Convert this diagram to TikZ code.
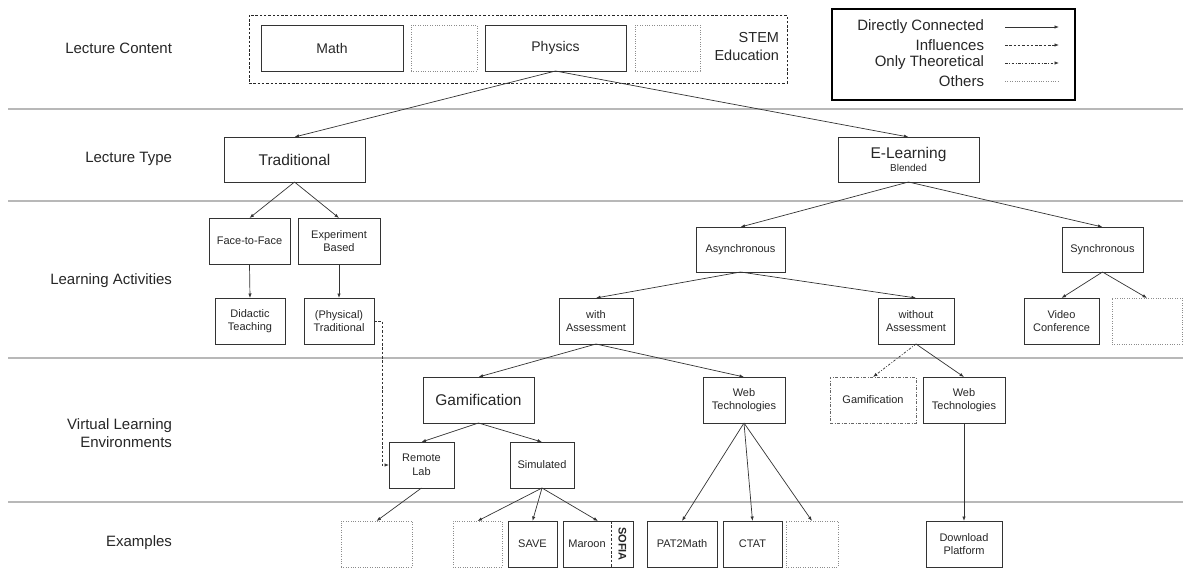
\documentclass[tikz,border=0pt]{standalone}
\usepackage{fontspec}
\setmainfont{Liberation Sans}
\usetikzlibrary{arrows.meta}
\begin{document}
\begin{tikzpicture}[x=1pt,y=-1pt,
  base/.style={inner sep=0pt, outer sep=0pt, align=center, text=black!85},
  box/.style={base, draw=black!80, line width=0.8pt, minimum height=46pt,
    font=\fontsize{11}{13.5}\selectfont},
  bigbox/.style={box, font=\fontsize{15.5}{18}\selectfont},
  topbox/.style={box, font=\fontsize{14}{17}\selectfont},
  ghost/.style={base, draw=black!45, line width=0.8pt, minimum height=46pt,
    dash pattern=on 0.8pt off 1.6pt},
  theory/.style={box, draw=black!60, dash pattern=on 3pt off 1.6pt on 0.8pt off 1.6pt},
  rowlabel/.style={base, anchor=east, align=right, font=\fontsize{15}{18}\selectfont},
  legtext/.style={base, anchor=east, font=\fontsize{15}{18}\selectfont},
  sep/.style={draw=black!28, line width=1.3pt},
  tip/.style={-{Latex[length=4.5pt,width=3.4pt]}},
  conn/.style={draw=black!80, line width=0.7pt, tip},
  influence/.style={conn, dash pattern=on 2.5pt off 1.8pt},
  theoretical/.style={conn, dash pattern=on 2.5pt off 1.6pt on 0.8pt off 1.6pt},
  others/.style={draw=black!45, line width=0.8pt, dash pattern=on 0.8pt off 1.6pt},
]
\useasboundingbox (0,0) rectangle (1183,568);

% row separators
\coordinate (s1a) at (8,109);  \coordinate (s1b) at (1183,109);
\coordinate (s2a) at (8,201);  \coordinate (s2b) at (1183,201);
\coordinate (s3a) at (8,358);  \coordinate (s3b) at (1183,358);
\coordinate (s4a) at (8,502);  \coordinate (s4b) at (1183,502);
\draw[sep] (s1a) -- (s1b);
\draw[sep] (s2a) -- (s2b);
\draw[sep] (s3a) -- (s3b);
\draw[sep] (s4a) -- (s4b);

% row labels
\node[rowlabel] (lContent) at (172,48) {Lecture Content};
\node[rowlabel] (lType) at (172,159) {Lecture Type};
\node[rowlabel] (lAct) at (172,281) {Learning Activities};
\node[rowlabel] (lVle) at (172,433) {Virtual Learning\\Environments};
\node[rowlabel] (lEx) at (172,543) {Examples};

% lecture content
\node[base, draw=black!85, line width=0.8pt, dash pattern=on 2.5pt off 1.8pt,
  minimum width=538pt, minimum height=68pt] (stem) at (518,49) {};
\node[topbox, minimum width=142pt] (math) at (332,48) {Math};
\node[ghost, minimum width=66pt] (g1) at (444,48) {};
\node[topbox, minimum width=141pt] (phys) at (555.5,48) {Physics};
\node[ghost, minimum width=65pt] (g2) at (667.5,48) {};
\node[base, anchor=east, align=right, font=\fontsize{14.5}{18}\selectfont] (stemtxt) at (779,47) {STEM\\Education};

% legend
\node[base, draw=black, line width=2.2pt, minimum width=243pt, minimum height=91pt] (legend) at (953.5,54.5) {};
\node[legtext] (t1) at (984,27) {Directly Connected};
\node[legtext] (t2) at (984,45) {Influences};
\node[legtext] (t3) at (984,63) {Only Theoretical};
\node[legtext] (t4) at (984,81) {Others};
\coordinate (a1) at (1005,27); \coordinate (b1) at (1059,27);
\coordinate (a2) at (1005,45); \coordinate (b2) at (1059,45);
\coordinate (a3) at (1005,63); \coordinate (b3) at (1059,63);
\coordinate (a4) at (1005,81); \coordinate (b4) at (1059,81);
\draw[conn] (a1) -- (b1);
\draw[influence] (a2) -- (b2);
\draw[theoretical] (a3) -- (b3);
\draw[others] (a4) -- (b4);

% lecture type
\node[bigbox, minimum width=141pt, minimum height=45pt] (trad) at (294.5,159.5) {Traditional};
\node[box, minimum width=141pt, minimum height=45pt] (elearn) at (908.5,159.5)
  {{\fontsize{15.5}{17}\selectfont E-Learning}\\[-1pt]{\fontsize{10}{12}\selectfont Blended}};

% learning activities
\node[box, minimum width=81pt] (f2f) at (249.5,241) {Face-to-Face};
\node[box, minimum width=82pt] (exp) at (339,241) {Experiment\\Based};
\node[box, minimum width=89pt, minimum height=45pt] (async) at (740.5,249.5) {Asynchronous};
\node[box, minimum width=81pt, minimum height=45pt] (sync) at (1102.5,249.5) {Synchronous};

\node[box, minimum width=70pt] (did) at (250,321) {Didactic\\Teaching};
\node[box, minimum width=70pt] (physical) at (339,321) {(Physical)\\Traditional};
\node[box, minimum width=74pt] (withA) at (596,321) {with\\Assessment};
\node[box, minimum width=76pt] (withoutA) at (916,321) {without\\Assessment};
\node[box, minimum width=75pt] (video) at (1061.5,321) {Video\\Conference};
\node[ghost, minimum width=70pt] (g3) at (1147,321) {};

% virtual learning environments
\node[bigbox, minimum width=111pt] (gam) at (478.5,400) {Gamification};
\node[box, minimum width=82pt] (web1) at (744,400) {Web\\Technologies};
\node[theory, minimum width=86pt] (gam2) at (873,400) {Gamification};
\node[box, minimum width=82pt] (web2) at (964,400) {Web\\Technologies};
\node[box, minimum width=65pt] (remote) at (421.5,465) {Remote\\Lab};
\node[box, minimum width=64pt] (sim) at (542,465) {Simulated};

% examples
\node[ghost, minimum width=71pt] (g4) at (376.5,544) {};
\node[ghost, minimum width=49pt] (g5) at (477.5,544) {};
\node[box, minimum width=49pt] (save) at (532.5,544) {SAVE};
\node[box, minimum width=70pt] (maroon) at (598,544) {};
\node[base, font=\fontsize{11}{13.5}\selectfont] (maroontxt) at (587,544) {Maroon};
\coordinate (divT) at (611,521); \coordinate (divB) at (611,567);
\draw[black!80, line width=0.7pt, dash pattern=on 2.5pt off 1.8pt] (divT) -- (divB);
\node[base, rotate=-90, font=\bfseries\fontsize{11}{13.5}\selectfont] (sofia) at (622.5,544) {SOFIA};
\node[box, minimum width=70pt] (pat) at (682,544) {PAT2Math};
\node[box, minimum width=59pt] (ctat) at (752.5,544) {CTAT};
\node[ghost, minimum width=52pt] (g6) at (812,544) {};
\node[box, minimum width=76pt] (dl) at (964,544) {Download\\Platform};

% connectors
\draw[conn] (phys.south) -- (trad.north);
\draw[conn] (phys.south) -- (elearn.north);
\draw[conn] (trad.south) -- (f2f.north);
\draw[conn] (trad.south) -- (exp.north);
\draw[conn] (f2f.south) -- (did.north);
\draw[conn] (exp.south) -- (physical.north);
\draw[conn] (elearn.south) -- (async.north);
\draw[conn] (elearn.south) -- (sync.north);
\draw[conn] (async.south) -- (withA.north);
\draw[conn] (async.south) -- (withoutA.north);
\draw[conn] (sync.south) -- (video.north);
\draw[conn] (sync.south) -- (g3.north);
\draw[conn] (withA.south) -- (gam.north);
\draw[conn] (withA.south) -- (web1.north);
\draw[theoretical] (withoutA.south) -- (gam2.north);
\draw[conn] (withoutA.south) -- (web2.north);
\draw[conn] (gam.south) -- (remote.north);
\draw[conn] (gam.south) -- (sim.north);
\draw[influence] (physical.east) -- ++(8,0) |- (remote.west);
\draw[conn] (remote.south) -- (g4.north);
\draw[conn] (sim.south) -- (g5.north);
\draw[conn] (sim.south) -- (save.north);
\draw[conn] (sim.south) -- (maroon.north);
\draw[conn] (web1.south) -- (pat.north);
\draw[conn] (web1.south) -- (ctat.north);
\draw[conn] (web1.south) -- (g6.north);
\draw[conn] (web2.south) -- (dl.north);
\end{tikzpicture}
\end{document}
